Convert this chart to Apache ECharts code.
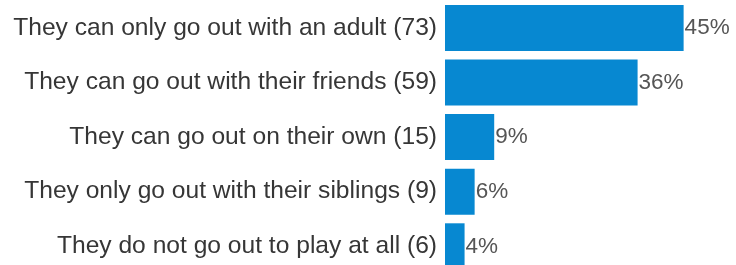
<!DOCTYPE html>
<html>
<head>
<meta charset="utf-8">
<script src="https://cdn.jsdelivr.net/npm/echarts@6/dist/echarts.min.js"></script>
<style>
  html, body { margin: 0; padding: 0; background: #fff; }
  #chart { width: 736px; height: 265px; }
</style>
</head>
<body>
<div id="chart"></div>
<script>
const categories = [
    'They can only go out with an adult (73)',
    'They can go out with their friends (59)',
    'They can go out on their own (15)',
    'They only go out with their siblings (9)',
    'They do not go out to play at all (6)'
];
const percentValues = [45.1, 36.4, 9.3, 5.6, 3.7];
const percentLabels = ['45%', '36%', '9%', '6%', '4%'];

const chart = echarts.init(document.getElementById('chart'), null, {renderer: 'canvas'});
const option = {
    animation: false,
    grid: {
        left: 445,
        right: 0,
        top: 0.6,
        bottom: -8.6,
        outerBoundsMode: 'none'
    },
    xAxis: {
        type: 'value',
        min: 0,
        max: 55,
        show: false
    },
    yAxis: {
        type: 'category',
        inverse: true,
        data: categories,
        axisLine: {show: false},
        axisTick: {show: false},
        axisLabel: {
            margin: 8,
            fontFamily: 'Liberation Sans',
            fontSize: 24.6,
            color: '#363636'
        }
    },
    series: [
        {
            type: 'bar',
            data: percentValues,
            barWidth: 46,
            itemStyle: {color: '#0788d1'},
            label: {
                show: true,
                position: 'right',
                distance: 1,
                fontFamily: 'Liberation Sans',
                fontSize: 22.5,
                color: '#555555',
                formatter: function (p) {
                    return percentLabels[p.dataIndex];
                }
            }
        }
    ]
};
chart.setOption(option);
</script>
</body>
</html>
